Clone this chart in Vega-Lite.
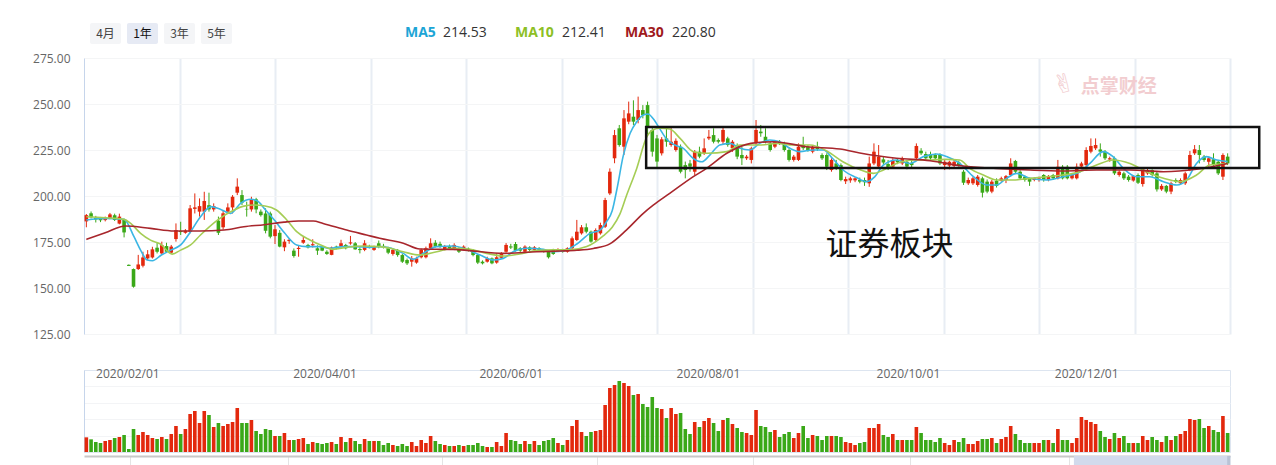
{
"$schema":"https://vega.github.io/schema/vega-lite/v6.json",
"padding":{"left":32,"top":23,"right":0,"bottom":0},
"background":"white",
"config":{"view":{"stroke":null},"font":"Open Sans","axis":{"labelFont":"Open Sans","titleFont":"Open Sans"}},
"datasets":{
"k":[
{"i":0,"o":186.2,"h":190.2,"l":183.0,"c":189.6,"vol":44},
{"i":1,"o":190.6,"h":191.6,"l":187.8,"c":188.4,"vol":38},
{"i":2,"o":188.2,"h":189.2,"l":185.6,"c":187.2,"vol":30},
{"i":3,"o":187.8,"h":188.6,"l":185.8,"c":186.8,"vol":27},
{"i":4,"o":186.9,"h":188.8,"l":186.2,"c":188.2,"vol":33},
{"i":5,"o":188.0,"h":190.8,"l":187.4,"c":190.0,"vol":36},
{"i":6,"o":189.6,"h":190.4,"l":186.4,"c":187.0,"vol":42},
{"i":7,"o":185.0,"h":190.4,"l":184.6,"c":188.8,"vol":45},
{"i":8,"o":187.0,"h":187.6,"l":177.5,"c":180.2,"vol":51},
{"i":9,"o":162.6,"h":162.8,"l":162.0,"c":162.0,"vol":9},
{"i":10,"o":160.3,"h":160.6,"l":150.2,"c":150.7,"vol":69},
{"i":11,"o":160.3,"h":168.0,"l":159.8,"c":162.8,"vol":51},
{"i":12,"o":162.1,"h":169.7,"l":161.2,"c":166.6,"vol":60},
{"i":13,"o":166.1,"h":170.6,"l":165.2,"c":168.3,"vol":51},
{"i":14,"o":166.6,"h":172.4,"l":166.0,"c":171.0,"vol":42},
{"i":15,"o":171.9,"h":174.6,"l":168.8,"c":169.7,"vol":39},
{"i":16,"o":168.8,"h":175.2,"l":168.0,"c":173.3,"vol":45},
{"i":17,"o":172.8,"h":174.6,"l":169.0,"c":169.7,"vol":39},
{"i":18,"o":169.2,"h":173.4,"l":168.8,"c":172.5,"vol":54},
{"i":19,"o":176.6,"h":185.1,"l":175.2,"c":181.5,"vol":78},
{"i":20,"o":181.0,"h":186.0,"l":178.8,"c":180.4,"vol":54},
{"i":21,"o":180.0,"h":182.0,"l":179.5,"c":181.2,"vol":69},
{"i":22,"o":180.6,"h":195.1,"l":179.7,"c":193.3,"vol":114},
{"i":23,"o":193.0,"h":201.4,"l":190.5,"c":193.8,"vol":123},
{"i":24,"o":191.5,"h":198.7,"l":188.8,"c":194.5,"vol":87},
{"i":25,"o":191.5,"h":202.3,"l":187.0,"c":197.3,"vol":123},
{"i":26,"o":195.0,"h":201.8,"l":191.5,"c":192.7,"vol":111},
{"i":27,"o":192.7,"h":196.0,"l":191.5,"c":194.5,"vol":75},
{"i":28,"o":186.6,"h":188.8,"l":178.8,"c":180.0,"vol":87},
{"i":29,"o":183.0,"h":192.4,"l":181.8,"c":190.6,"vol":78},
{"i":30,"o":191.5,"h":196.0,"l":190.5,"c":193.8,"vol":84},
{"i":31,"o":193.8,"h":200.5,"l":190.5,"c":199.6,"vol":90},
{"i":32,"o":201.8,"h":209.6,"l":200.5,"c":205.1,"vol":132},
{"i":33,"o":200.5,"h":203.2,"l":195.1,"c":196.4,"vol":87},
{"i":34,"o":193.0,"h":196.9,"l":188.8,"c":192.7,"vol":87},
{"i":35,"o":192.7,"h":199.6,"l":191.5,"c":198.2,"vol":96},
{"i":36,"o":198.2,"h":199.0,"l":190.6,"c":192.7,"vol":63},
{"i":37,"o":191.5,"h":192.7,"l":188.8,"c":189.6,"vol":54},
{"i":38,"o":190.5,"h":193.3,"l":179.7,"c":181.1,"vol":69},
{"i":39,"o":190.5,"h":191.5,"l":177.0,"c":177.9,"vol":66},
{"i":40,"o":178.2,"h":184.2,"l":173.9,"c":181.9,"vol":48},
{"i":41,"o":180.0,"h":181.5,"l":172.1,"c":172.5,"vol":48},
{"i":42,"o":172.1,"h":176.5,"l":170.0,"c":175.2,"vol":57},
{"i":43,"o":175.5,"h":177.0,"l":174.0,"c":176.2,"vol":36},
{"i":44,"o":170.3,"h":171.5,"l":166.5,"c":167.4,"vol":36},
{"i":45,"o":171.2,"h":173.0,"l":167.0,"c":171.8,"vol":39},
{"i":46,"o":174.6,"h":177.8,"l":174.0,"c":176.1,"vol":42},
{"i":47,"o":173.4,"h":174.0,"l":171.5,"c":172.1,"vol":24},
{"i":48,"o":173.2,"h":176.5,"l":172.0,"c":173.8,"vol":30},
{"i":49,"o":171.6,"h":173.2,"l":168.0,"c":170.3,"vol":27},
{"i":50,"o":172.5,"h":173.0,"l":170.0,"c":170.3,"vol":24},
{"i":51,"o":169.7,"h":170.5,"l":168.0,"c":168.5,"vol":27},
{"i":52,"o":168.0,"h":172.5,"l":167.8,"c":172.0,"vol":30},
{"i":53,"o":172.5,"h":173.0,"l":171.0,"c":171.6,"vol":24},
{"i":54,"o":172.5,"h":176.2,"l":172.0,"c":174.3,"vol":45},
{"i":55,"o":173.4,"h":174.0,"l":171.0,"c":171.6,"vol":30},
{"i":56,"o":174.2,"h":178.3,"l":173.5,"c":174.8,"vol":42},
{"i":57,"o":174.3,"h":175.0,"l":170.8,"c":171.0,"vol":33},
{"i":58,"o":171.2,"h":172.1,"l":168.8,"c":170.6,"vol":24},
{"i":59,"o":170.7,"h":176.0,"l":170.0,"c":174.3,"vol":39},
{"i":60,"o":172.6,"h":173.5,"l":171.5,"c":172.0,"vol":33},
{"i":61,"o":170.7,"h":173.0,"l":170.2,"c":172.5,"vol":33},
{"i":62,"o":174.3,"h":175.8,"l":171.6,"c":172.5,"vol":33},
{"i":63,"o":172.9,"h":174.0,"l":171.5,"c":172.3,"vol":21},
{"i":64,"o":171.6,"h":172.4,"l":168.4,"c":169.2,"vol":27},
{"i":65,"o":168.5,"h":171.6,"l":167.6,"c":170.7,"vol":21},
{"i":66,"o":170.7,"h":171.2,"l":167.0,"c":167.9,"vol":18},
{"i":67,"o":167.9,"h":168.5,"l":163.6,"c":164.3,"vol":24},
{"i":68,"o":165.2,"h":166.0,"l":162.5,"c":163.4,"vol":18},
{"i":69,"o":164.3,"h":167.4,"l":161.6,"c":166.1,"vol":30},
{"i":70,"o":163.8,"h":167.0,"l":163.2,"c":166.1,"vol":18},
{"i":71,"o":166.7,"h":171.4,"l":166.1,"c":170.7,"vol":36},
{"i":72,"o":166.7,"h":172.5,"l":166.1,"c":171.6,"vol":27},
{"i":73,"o":171.6,"h":177.0,"l":171.0,"c":174.3,"vol":48},
{"i":74,"o":174.6,"h":176.0,"l":172.0,"c":172.5,"vol":33},
{"i":75,"o":174.0,"h":175.2,"l":171.8,"c":172.5,"vol":24},
{"i":76,"o":171.0,"h":173.4,"l":170.5,"c":172.5,"vol":21},
{"i":77,"o":172.8,"h":173.6,"l":171.0,"c":171.6,"vol":18},
{"i":78,"o":171.0,"h":174.3,"l":170.6,"c":173.4,"vol":18},
{"i":79,"o":171.6,"h":172.2,"l":169.0,"c":169.7,"vol":21},
{"i":80,"o":171.0,"h":173.2,"l":170.5,"c":172.5,"vol":18},
{"i":81,"o":171.4,"h":172.0,"l":169.8,"c":170.3,"vol":21},
{"i":82,"o":170.7,"h":171.2,"l":167.2,"c":167.9,"vol":21},
{"i":83,"o":167.9,"h":168.6,"l":163.0,"c":163.8,"vol":27},
{"i":84,"o":164.3,"h":165.0,"l":162.8,"c":163.4,"vol":18},
{"i":85,"o":164.3,"h":167.0,"l":163.8,"c":166.1,"vol":15},
{"i":86,"o":166.1,"h":166.6,"l":162.9,"c":163.4,"vol":15},
{"i":87,"o":163.8,"h":168.8,"l":163.2,"c":166.7,"vol":30},
{"i":88,"o":166.4,"h":169.5,"l":165.8,"c":168.5,"vol":18},
{"i":89,"o":169.7,"h":174.4,"l":169.2,"c":173.4,"vol":57},
{"i":90,"o":172.6,"h":174.0,"l":171.2,"c":172.0,"vol":36},
{"i":91,"o":173.9,"h":175.0,"l":169.8,"c":170.3,"vol":33},
{"i":92,"o":171.6,"h":172.2,"l":169.6,"c":170.3,"vol":24},
{"i":93,"o":169.7,"h":173.2,"l":169.2,"c":172.5,"vol":33},
{"i":94,"o":172.1,"h":172.7,"l":170.0,"c":170.7,"vol":24},
{"i":95,"o":170.7,"h":172.8,"l":170.2,"c":172.1,"vol":33},
{"i":96,"o":171.6,"h":172.2,"l":170.2,"c":170.7,"vol":21},
{"i":97,"o":170.7,"h":171.2,"l":169.2,"c":169.7,"vol":33},
{"i":98,"o":169.7,"h":170.2,"l":166.0,"c":166.7,"vol":36},
{"i":99,"o":170.7,"h":171.3,"l":168.0,"c":168.5,"vol":42},
{"i":100,"o":170.2,"h":171.6,"l":169.8,"c":170.9,"vol":27},
{"i":101,"o":170.7,"h":171.3,"l":169.2,"c":169.8,"vol":21},
{"i":102,"o":169.7,"h":172.1,"l":169.2,"c":171.6,"vol":36},
{"i":103,"o":171.6,"h":178.0,"l":171.2,"c":177.0,"vol":78},
{"i":104,"o":176.1,"h":187.0,"l":175.5,"c":180.6,"vol":96},
{"i":105,"o":179.7,"h":184.2,"l":179.0,"c":183.0,"vol":60},
{"i":106,"o":183.0,"h":185.1,"l":179.7,"c":180.6,"vol":48},
{"i":107,"o":180.6,"h":181.2,"l":174.6,"c":175.2,"vol":60},
{"i":108,"o":176.1,"h":182.4,"l":175.6,"c":181.5,"vol":63},
{"i":109,"o":179.7,"h":185.5,"l":179.0,"c":184.2,"vol":66},
{"i":110,"o":183.3,"h":199.0,"l":182.6,"c":197.8,"vol":141},
{"i":111,"o":201.4,"h":215.0,"l":200.5,"c":213.2,"vol":192},
{"i":112,"o":220.5,"h":235.9,"l":217.8,"c":233.1,"vol":201},
{"i":113,"o":236.8,"h":238.6,"l":226.8,"c":227.7,"vol":213},
{"i":114,"o":226.8,"h":246.7,"l":222.3,"c":242.2,"vol":207},
{"i":115,"o":240.4,"h":251.3,"l":239.0,"c":244.9,"vol":198},
{"i":116,"o":243.1,"h":252.0,"l":238.6,"c":240.4,"vol":171},
{"i":117,"o":241.3,"h":254.0,"l":239.5,"c":246.7,"vol":174},
{"i":118,"o":246.7,"h":249.4,"l":242.2,"c":244.0,"vol":144},
{"i":119,"o":249.4,"h":251.3,"l":233.5,"c":237.7,"vol":135},
{"i":120,"o":235.9,"h":237.7,"l":221.4,"c":224.1,"vol":165},
{"i":121,"o":231.3,"h":233.2,"l":215.0,"c":218.7,"vol":132},
{"i":122,"o":223.2,"h":232.0,"l":222.0,"c":230.8,"vol":129},
{"i":123,"o":231.3,"h":237.7,"l":226.8,"c":229.5,"vol":102},
{"i":124,"o":227.7,"h":237.7,"l":226.8,"c":229.5,"vol":132},
{"i":125,"o":225.0,"h":231.3,"l":224.1,"c":230.0,"vol":114},
{"i":126,"o":226.8,"h":228.0,"l":212.3,"c":213.2,"vol":117},
{"i":127,"o":216.8,"h":218.7,"l":209.6,"c":214.1,"vol":69},
{"i":128,"o":217.7,"h":219.6,"l":213.2,"c":216.0,"vol":54},
{"i":129,"o":213.2,"h":225.0,"l":211.4,"c":224.1,"vol":90},
{"i":130,"o":224.1,"h":226.8,"l":220.5,"c":221.4,"vol":75},
{"i":131,"o":223.2,"h":231.3,"l":222.3,"c":225.9,"vol":93},
{"i":132,"o":231.3,"h":235.9,"l":230.4,"c":232.2,"vol":102},
{"i":133,"o":233.1,"h":236.8,"l":228.6,"c":229.5,"vol":87},
{"i":134,"o":230.4,"h":231.3,"l":228.6,"c":229.5,"vol":63},
{"i":135,"o":229.5,"h":237.7,"l":228.0,"c":235.9,"vol":96},
{"i":136,"o":231.3,"h":232.2,"l":226.8,"c":227.7,"vol":102},
{"i":137,"o":226.0,"h":230.4,"l":224.0,"c":229.5,"vol":84},
{"i":138,"o":227.7,"h":228.6,"l":220.0,"c":221.4,"vol":72},
{"i":139,"o":222.3,"h":226.8,"l":216.8,"c":220.5,"vol":60},
{"i":140,"o":220.5,"h":222.3,"l":219.6,"c":221.4,"vol":57},
{"i":141,"o":219.6,"h":226.8,"l":217.7,"c":225.9,"vol":51},
{"i":142,"o":228.6,"h":241.3,"l":227.7,"c":235.9,"vol":126},
{"i":143,"o":235.0,"h":238.6,"l":232.2,"c":234.1,"vol":78},
{"i":144,"o":232.2,"h":236.8,"l":228.6,"c":229.5,"vol":75},
{"i":145,"o":228.6,"h":229.5,"l":224.1,"c":225.0,"vol":60},
{"i":146,"o":226.8,"h":230.4,"l":226.0,"c":229.5,"vol":66},
{"i":147,"o":229.3,"h":230.4,"l":227.7,"c":228.6,"vol":45},
{"i":148,"o":228.6,"h":229.5,"l":224.1,"c":225.0,"vol":54},
{"i":149,"o":225.0,"h":226.0,"l":218.7,"c":219.6,"vol":60},
{"i":150,"o":219.6,"h":222.3,"l":218.7,"c":221.4,"vol":42},
{"i":151,"o":219.6,"h":228.6,"l":219.0,"c":226.8,"vol":57},
{"i":152,"o":227.7,"h":232.2,"l":225.0,"c":226.0,"vol":78},
{"i":153,"o":226.8,"h":227.7,"l":224.1,"c":225.0,"vol":42},
{"i":154,"o":224.1,"h":227.7,"l":223.2,"c":226.8,"vol":51},
{"i":155,"o":226.8,"h":229.5,"l":224.5,"c":225.5,"vol":48},
{"i":156,"o":222.3,"h":223.2,"l":219.6,"c":220.5,"vol":36},
{"i":157,"o":222.3,"h":223.2,"l":214.1,"c":215.9,"vol":48},
{"i":158,"o":214.1,"h":220.5,"l":213.2,"c":219.6,"vol":48},
{"i":159,"o":217.7,"h":219.6,"l":214.1,"c":215.0,"vol":48},
{"i":160,"o":216.8,"h":217.7,"l":208.0,"c":208.7,"vol":45},
{"i":161,"o":208.0,"h":210.5,"l":206.5,"c":209.2,"vol":30},
{"i":162,"o":208.5,"h":210.5,"l":207.2,"c":209.6,"vol":27},
{"i":163,"o":208.5,"h":210.2,"l":207.5,"c":209.6,"vol":21},
{"i":164,"o":208.7,"h":210.0,"l":206.9,"c":207.8,"vol":27},
{"i":165,"o":208.7,"h":210.0,"l":205.5,"c":207.5,"vol":30},
{"i":166,"o":206.9,"h":221.4,"l":205.0,"c":217.7,"vol":72},
{"i":167,"o":217.7,"h":228.6,"l":216.8,"c":224.1,"vol":72},
{"i":168,"o":216.0,"h":227.7,"l":215.0,"c":221.4,"vol":84},
{"i":169,"o":219.9,"h":221.4,"l":217.0,"c":218.2,"vol":51},
{"i":170,"o":217.4,"h":219.6,"l":214.1,"c":215.6,"vol":45},
{"i":171,"o":216.0,"h":220.5,"l":215.0,"c":219.6,"vol":54},
{"i":172,"o":219.6,"h":220.5,"l":217.3,"c":218.3,"vol":36},
{"i":173,"o":217.7,"h":221.4,"l":216.8,"c":220.5,"vol":36},
{"i":174,"o":218.6,"h":219.6,"l":214.5,"c":216.0,"vol":36},
{"i":175,"o":218.0,"h":219.6,"l":215.5,"c":216.8,"vol":36},
{"i":176,"o":220.5,"h":228.6,"l":219.6,"c":227.2,"vol":75},
{"i":177,"o":224.6,"h":226.0,"l":222.3,"c":223.2,"vol":57},
{"i":178,"o":222.8,"h":224.1,"l":219.6,"c":220.5,"vol":36},
{"i":179,"o":222.8,"h":224.1,"l":219.6,"c":220.5,"vol":36},
{"i":180,"o":222.3,"h":223.2,"l":219.6,"c":220.5,"vol":30},
{"i":181,"o":222.3,"h":223.2,"l":216.8,"c":217.7,"vol":42},
{"i":182,"o":216.8,"h":219.6,"l":214.1,"c":218.6,"vol":27},
{"i":183,"o":216.5,"h":219.2,"l":214.5,"c":218.6,"vol":21},
{"i":184,"o":216.3,"h":219.6,"l":215.5,"c":218.6,"vol":36},
{"i":185,"o":218.2,"h":219.2,"l":215.9,"c":216.8,"vol":30},
{"i":186,"o":213.2,"h":214.1,"l":206.0,"c":207.2,"vol":42},
{"i":187,"o":206.9,"h":210.0,"l":206.0,"c":208.7,"vol":24},
{"i":188,"o":206.9,"h":210.5,"l":206.0,"c":209.6,"vol":24},
{"i":189,"o":206.0,"h":211.4,"l":205.1,"c":210.5,"vol":33},
{"i":190,"o":209.6,"h":210.5,"l":199.2,"c":201.8,"vol":39},
{"i":191,"o":207.8,"h":209.0,"l":201.5,"c":202.4,"vol":39},
{"i":192,"o":202.4,"h":208.7,"l":201.5,"c":207.8,"vol":42},
{"i":193,"o":208.3,"h":209.6,"l":204.6,"c":205.5,"vol":27},
{"i":194,"o":208.3,"h":210.5,"l":207.8,"c":209.6,"vol":39},
{"i":195,"o":208.7,"h":211.4,"l":207.0,"c":210.8,"vol":45},
{"i":196,"o":211.4,"h":220.5,"l":210.5,"c":217.7,"vol":78},
{"i":197,"o":219.0,"h":219.6,"l":212.3,"c":213.2,"vol":54},
{"i":198,"o":213.2,"h":214.0,"l":208.7,"c":209.6,"vol":36},
{"i":199,"o":210.5,"h":211.2,"l":207.8,"c":208.7,"vol":27},
{"i":200,"o":209.6,"h":210.0,"l":205.5,"c":207.8,"vol":27},
{"i":201,"o":208.7,"h":210.3,"l":208.0,"c":209.6,"vol":27},
{"i":202,"o":208.7,"h":210.5,"l":207.8,"c":209.6,"vol":27},
{"i":203,"o":211.4,"h":211.9,"l":207.8,"c":208.7,"vol":36},
{"i":204,"o":208.7,"h":211.4,"l":208.0,"c":210.5,"vol":36},
{"i":205,"o":211.4,"h":212.0,"l":208.7,"c":209.6,"vol":27},
{"i":206,"o":209.6,"h":219.6,"l":209.0,"c":215.9,"vol":69},
{"i":207,"o":215.9,"h":216.8,"l":209.0,"c":209.6,"vol":36},
{"i":208,"o":215.9,"h":216.8,"l":209.0,"c":209.6,"vol":36},
{"i":209,"o":209.6,"h":212.0,"l":209.0,"c":211.4,"vol":27},
{"i":210,"o":209.6,"h":217.7,"l":209.0,"c":215.9,"vol":42},
{"i":211,"o":216.0,"h":218.6,"l":214.5,"c":217.7,"vol":105},
{"i":212,"o":216.8,"h":226.5,"l":216.0,"c":225.0,"vol":96},
{"i":213,"o":224.1,"h":231.3,"l":223.2,"c":227.2,"vol":90},
{"i":214,"o":225.9,"h":231.3,"l":225.0,"c":227.7,"vol":84},
{"i":215,"o":225.3,"h":228.6,"l":221.4,"c":224.1,"vol":63},
{"i":216,"o":224.1,"h":225.0,"l":219.6,"c":220.5,"vol":45},
{"i":217,"o":219.9,"h":221.4,"l":218.6,"c":220.5,"vol":39},
{"i":218,"o":220.5,"h":221.4,"l":211.4,"c":212.3,"vol":57},
{"i":219,"o":211.4,"h":214.0,"l":210.5,"c":213.2,"vol":42},
{"i":220,"o":212.3,"h":213.2,"l":208.7,"c":209.6,"vol":48},
{"i":221,"o":210.5,"h":211.4,"l":207.8,"c":208.7,"vol":27},
{"i":222,"o":208.4,"h":211.4,"l":207.8,"c":210.8,"vol":27},
{"i":223,"o":211.4,"h":212.3,"l":206.5,"c":207.2,"vol":27},
{"i":224,"o":206.5,"h":215.5,"l":205.1,"c":214.5,"vol":48},
{"i":225,"o":212.3,"h":214.8,"l":211.5,"c":214.1,"vol":36},
{"i":226,"o":214.1,"h":214.5,"l":210.5,"c":211.4,"vol":45},
{"i":227,"o":212.3,"h":213.2,"l":202.4,"c":203.6,"vol":36},
{"i":228,"o":203.6,"h":206.5,"l":202.8,"c":205.5,"vol":30},
{"i":229,"o":205.5,"h":206.0,"l":201.5,"c":202.4,"vol":48},
{"i":230,"o":202.4,"h":207.8,"l":201.0,"c":206.9,"vol":36},
{"i":231,"o":208.7,"h":209.6,"l":207.0,"c":207.8,"vol":48},
{"i":232,"o":206.9,"h":209.6,"l":206.0,"c":208.7,"vol":54},
{"i":233,"o":206.9,"h":213.2,"l":206.0,"c":212.3,"vol":63},
{"i":234,"o":214.1,"h":224.5,"l":213.5,"c":222.3,"vol":99},
{"i":235,"o":223.2,"h":227.7,"l":222.3,"c":225.4,"vol":96},
{"i":236,"o":225.0,"h":227.7,"l":217.7,"c":222.3,"vol":99},
{"i":237,"o":221.4,"h":222.3,"l":218.6,"c":219.6,"vol":72},
{"i":238,"o":218.6,"h":221.4,"l":215.9,"c":220.5,"vol":78},
{"i":239,"o":220.0,"h":223.2,"l":216.0,"c":216.8,"vol":66},
{"i":240,"o":218.6,"h":219.6,"l":211.4,"c":212.3,"vol":60},
{"i":241,"o":210.5,"h":223.2,"l":208.7,"c":222.3,"vol":108},
{"i":242,"o":221.4,"h":223.2,"l":216.8,"c":217.7,"vol":57}
],
"ma":[
{"s":"MA5","i":0,"v":187},{"s":"MA5","i":4,"v":187.8},{"s":"MA5","i":8,"v":187.3},{"s":"MA5","i":10.1,"v":177.9},{"s":"MA5","i":11.5,"v":170.6},{"s":"MA5","i":12.9,"v":165.2},{"s":"MA5","i":14,"v":164.8},{"s":"MA5","i":15.9,"v":167.9},{"s":"MA5","i":17.9,"v":170.6},{"s":"MA5","i":20,"v":173.4},{"s":"MA5","i":22.1,"v":180.6},{"s":"MA5","i":24.2,"v":188.7},{"s":"MA5","i":26.4,"v":194.2},{"s":"MA5","i":28.5,"v":192.7},{"s":"MA5","i":30.6,"v":190.5},{"s":"MA5","i":32.7,"v":196},{"s":"MA5","i":34.8,"v":198.2},{"s":"MA5","i":36.2,"v":197.4},{"s":"MA5","i":38,"v":192.4},{"s":"MA5","i":40,"v":186.5},{"s":"MA5","i":42,"v":180},{"s":"MA5","i":44.6,"v":173.4},{"s":"MA5","i":46.7,"v":172.5},{"s":"MA5","i":49.5,"v":172.5},{"s":"MA5","i":51.6,"v":171.6},{"s":"MA5","i":54.5,"v":172.5},{"s":"MA5","i":57.3,"v":172.5},{"s":"MA5","i":60.1,"v":172.1},{"s":"MA5","i":62.2,"v":172.5},{"s":"MA5","i":64,"v":172},{"s":"MA5","i":67.2,"v":168.8},{"s":"MA5","i":69.3,"v":165.6},{"s":"MA5","i":71.4,"v":168.8},{"s":"MA5","i":74.3,"v":172.5},{"s":"MA5","i":77.8,"v":172.8},{"s":"MA5","i":80.6,"v":171},{"s":"MA5","i":83.5,"v":167.9},{"s":"MA5","i":86.3,"v":165.2},{"s":"MA5","i":88.4,"v":166.1},{"s":"MA5","i":90.5,"v":169.7},{"s":"MA5","i":93.4,"v":171.6},{"s":"MA5","i":96.9,"v":171},{"s":"MA5","i":99,"v":169.7},{"s":"MA5","i":101.1,"v":170.1},{"s":"MA5","i":104,"v":173.9},{"s":"MA5","i":106.8,"v":179.7},{"s":"MA5","i":108.9,"v":181.5},{"s":"MA5","i":110.3,"v":186},{"s":"MA5","i":111.5,"v":192},{"s":"MA5","i":112.6,"v":205},{"s":"MA5","i":113.8,"v":221.4},{"s":"MA5","i":115.3,"v":234.1},{"s":"MA5","i":116.7,"v":240.4},{"s":"MA5","i":118.1,"v":244},{"s":"MA5","i":119.1,"v":244.6},{"s":"MA5","i":120.2,"v":242},{"s":"MA5","i":121.6,"v":236.5},{"s":"MA5","i":123,"v":231},{"s":"MA5","i":124.8,"v":227.7},{"s":"MA5","i":126.6,"v":225.9},{"s":"MA5","i":128.7,"v":220.4},{"s":"MA5","i":130.5,"v":218.6},{"s":"MA5","i":132.2,"v":222.2},{"s":"MA5","i":134.3,"v":227.7},{"s":"MA5","i":136.5,"v":228.6},{"s":"MA5","i":138.6,"v":225.9},{"s":"MA5","i":140.7,"v":225},{"s":"MA5","i":142.8,"v":228.6},{"s":"MA5","i":144.9,"v":230.4},{"s":"MA5","i":147,"v":229.5},{"s":"MA5","i":149.2,"v":225.9},{"s":"MA5","i":151.3,"v":224.1},{"s":"MA5","i":154.1,"v":225},{"s":"MA5","i":156.3,"v":225},{"s":"MA5","i":158.2,"v":220.5},{"s":"MA5","i":160.5,"v":214},{"s":"MA5","i":163.3,"v":210},{"s":"MA5","i":165.5,"v":207.8},{"s":"MA5","i":167.2,"v":210.5},{"s":"MA5","i":169,"v":216.8},{"s":"MA5","i":171.8,"v":219.6},{"s":"MA5","i":174.6,"v":217.7},{"s":"MA5","i":177.5,"v":221.4},{"s":"MA5","i":180.3,"v":222.8},{"s":"MA5","i":182.4,"v":221.4},{"s":"MA5","i":185.2,"v":217.7},{"s":"MA5","i":188.1,"v":210.5},{"s":"MA5","i":190.9,"v":206},{"s":"MA5","i":193,"v":206},{"s":"MA5","i":195.1,"v":209.6},{"s":"MA5","i":197.3,"v":212.3},{"s":"MA5","i":200.1,"v":209.6},{"s":"MA5","i":203.6,"v":208.7},{"s":"MA5","i":207.1,"v":210.5},{"s":"MA5","i":210.7,"v":213.2},{"s":"MA5","i":212.8,"v":217.7},{"s":"MA5","i":215.6,"v":224.1},{"s":"MA5","i":217.7,"v":221.4},{"s":"MA5","i":219.9,"v":215},{"s":"MA5","i":222.7,"v":210.5},{"s":"MA5","i":225.5,"v":210.5},{"s":"MA5","i":228.4,"v":207.8},{"s":"MA5","i":231.2,"v":206},{"s":"MA5","i":233.3,"v":208.7},{"s":"MA5","i":235.4,"v":217.7},{"s":"MA5","i":237.5,"v":221.4},{"s":"MA5","i":239.7,"v":219.6},{"s":"MA5","i":242,"v":218.7},
{"s":"MA10","i":0,"v":188.7},{"s":"MA10","i":4,"v":188.2},{"s":"MA10","i":8,"v":187.3},{"s":"MA10","i":9.4,"v":185.1},{"s":"MA10","i":11.5,"v":179.7},{"s":"MA10","i":13.6,"v":176},{"s":"MA10","i":15.7,"v":173.9},{"s":"MA10","i":18.2,"v":168.4},{"s":"MA10","i":20,"v":170.6},{"s":"MA10","i":22.1,"v":173.4},{"s":"MA10","i":24.2,"v":178.8},{"s":"MA10","i":27.8,"v":186.9},{"s":"MA10","i":31.3,"v":192.4},{"s":"MA10","i":33.4,"v":194.5},{"s":"MA10","i":35.5,"v":195.1},{"s":"MA10","i":37.9,"v":194.6},{"s":"MA10","i":40.3,"v":192.4},{"s":"MA10","i":42.5,"v":187},{"s":"MA10","i":44.6,"v":180.6},{"s":"MA10","i":47.4,"v":176.1},{"s":"MA10","i":50.2,"v":172.8},{"s":"MA10","i":52.3,"v":171},{"s":"MA10","i":55.2,"v":172.1},{"s":"MA10","i":58.7,"v":172.8},{"s":"MA10","i":62.2,"v":172.5},{"s":"MA10","i":64.4,"v":171.6},{"s":"MA10","i":67.2,"v":169.7},{"s":"MA10","i":70.7,"v":167.9},{"s":"MA10","i":74.3,"v":169.7},{"s":"MA10","i":77.8,"v":171.6},{"s":"MA10","i":81.3,"v":171},{"s":"MA10","i":84.9,"v":168.8},{"s":"MA10","i":88.4,"v":167.4},{"s":"MA10","i":91.9,"v":168.5},{"s":"MA10","i":95.5,"v":170.3},{"s":"MA10","i":99,"v":170.7},{"s":"MA10","i":102.5,"v":170.7},{"s":"MA10","i":106.1,"v":172.5},{"s":"MA10","i":109.6,"v":178.3},{"s":"MA10","i":111.5,"v":183},{"s":"MA10","i":113.1,"v":190},{"s":"MA10","i":114.5,"v":200},{"s":"MA10","i":116.7,"v":215},{"s":"MA10","i":118.8,"v":232},{"s":"MA10","i":120.2,"v":236},{"s":"MA10","i":121.6,"v":236.8},{"s":"MA10","i":123.7,"v":236.4},{"s":"MA10","i":125.9,"v":231.3},{"s":"MA10","i":128.7,"v":224.1},{"s":"MA10","i":131.6,"v":223.2},{"s":"MA10","i":135.8,"v":224.1},{"s":"MA10","i":138.6,"v":227.7},{"s":"MA10","i":142.8,"v":227.7},{"s":"MA10","i":146.4,"v":228.6},{"s":"MA10","i":149.9,"v":227.7},{"s":"MA10","i":153.4,"v":227.7},{"s":"MA10","i":157,"v":224.5},{"s":"MA10","i":160.5,"v":218.5},{"s":"MA10","i":164.2,"v":214.1},{"s":"MA10","i":166.9,"v":212.3},{"s":"MA10","i":169,"v":214.1},{"s":"MA10","i":171.8,"v":217.7},{"s":"MA10","i":175.3,"v":219.6},{"s":"MA10","i":178.9,"v":219.6},{"s":"MA10","i":182.4,"v":219.9},{"s":"MA10","i":185.2,"v":219.6},{"s":"MA10","i":187.3,"v":215},{"s":"MA10","i":190.2,"v":211.4},{"s":"MA10","i":193,"v":208.7},{"s":"MA10","i":196.5,"v":208.7},{"s":"MA10","i":200.1,"v":209.6},{"s":"MA10","i":203.6,"v":210.5},{"s":"MA10","i":207.1,"v":211.4},{"s":"MA10","i":210.7,"v":213.2},{"s":"MA10","i":214.2,"v":216.8},{"s":"MA10","i":217.7,"v":219.6},{"s":"MA10","i":221.3,"v":217.7},{"s":"MA10","i":224.8,"v":213.2},{"s":"MA10","i":228.4,"v":209.6},{"s":"MA10","i":231.9,"v":207.8},{"s":"MA10","i":235.4,"v":211.4},{"s":"MA10","i":238.2,"v":216.8},{"s":"MA10","i":242,"v":217.7},
{"s":"MA30","i":0,"v":176.4},{"s":"MA30","i":4,"v":180},{"s":"MA30","i":8.3,"v":183.7},{"s":"MA30","i":13.6,"v":182.4},{"s":"MA30","i":18.6,"v":181},{"s":"MA30","i":24,"v":181},{"s":"MA30","i":29.2,"v":181.5},{"s":"MA30","i":33.4,"v":183.3},{"s":"MA30","i":37.7,"v":184.4},{"s":"MA30","i":41.9,"v":185.8},{"s":"MA30","i":45,"v":186.4},{"s":"MA30","i":48.1,"v":186.4},{"s":"MA30","i":50.2,"v":185.1},{"s":"MA30","i":55.2,"v":181.5},{"s":"MA30","i":59.4,"v":178.8},{"s":"MA30","i":62.2,"v":177},{"s":"MA30","i":67.2,"v":174.3},{"s":"MA30","i":70.7,"v":171.2},{"s":"MA30","i":77.8,"v":171},{"s":"MA30","i":81.3,"v":170.3},{"s":"MA30","i":88.4,"v":168.8},{"s":"MA30","i":95.5,"v":169.7},{"s":"MA30","i":100.4,"v":170.1},{"s":"MA30","i":104,"v":170.5},{"s":"MA30","i":107.5,"v":171.5},{"s":"MA30","i":111,"v":174},{"s":"MA30","i":114.5,"v":181.5},{"s":"MA30","i":118.1,"v":190.6},{"s":"MA30","i":120.2,"v":195},{"s":"MA30","i":123.7,"v":201.4},{"s":"MA30","i":128.7,"v":210.5},{"s":"MA30","i":131.5,"v":215},{"s":"MA30","i":135.8,"v":223.2},{"s":"MA30","i":140.9,"v":228.6},{"s":"MA30","i":145.7,"v":229.5},{"s":"MA30","i":152.7,"v":226.8},{"s":"MA30","i":159.8,"v":225.5},{"s":"MA30","i":164,"v":223.4},{"s":"MA30","i":171.8,"v":220.5},{"s":"MA30","i":178.9,"v":219.2},{"s":"MA30","i":185.9,"v":216.3},{"s":"MA30","i":193,"v":215},{"s":"MA30","i":200.1,"v":214.1},{"s":"MA30","i":207.1,"v":213.6},{"s":"MA30","i":214.2,"v":214.1},{"s":"MA30","i":221.3,"v":214.1},{"s":"MA30","i":228.4,"v":213.2},{"s":"MA30","i":235.4,"v":214.5},{"s":"MA30","i":242,"v":217.7}
]
},
"spacing":14,
"bounds":"flush",
"vconcat":[
{
 "width":1146,"height":21,
 "layer":[
  {
   "data":{"values":[{"b":"4月"},{"b":"1年"},{"b":"3年"},{"b":"5年"}]},
   "layer":[
    {"mark":{"type":"rect","cornerRadius":2},
     "encoding":{
      "x":{"field":"b","type":"nominal","sort":null,"scale":{"type":"band","domain":["4月","1年","3年","5年"],"range":[6,148],"paddingInner":0.162,"paddingOuter":0},"axis":null},
      "color":{"condition":{"test":"datum.b==='1年'","value":"#e6eaf4"},"value":"#f4f5f7"}}},
    {"mark":{"type":"text","font":"Noto Sans CJK SC","fontSize":12},
     "encoding":{
      "x":{"field":"b","type":"nominal","sort":null},
      "text":{"field":"b"},
      "color":{"condition":{"test":"datum.b==='1年'","value":"#111111"},"value":"#444444"},
      "fontWeight":{"condition":{"test":"datum.b==='1年'","value":"bold"},"value":"normal"}}}
   ]
  },
  {
   "data":{"values":[{"k":"MA5","v":"214.53"},{"k":"MA10","v":"212.41"},{"k":"MA30","v":"220.80"}]},
   "layer":[
    {"mark":{"type":"text","align":"left","fontSize":14,"fontWeight":"bold","dy":-1,"font":"Open Sans"},
     "encoding":{
      "x":{"field":"k","type":"nominal","sort":null,"bandPosition":0,"scale":{"type":"band","domain":["MA5","MA10","MA30"],"range":[321,651],"paddingInner":0,"paddingOuter":0},"axis":null},
      "text":{"field":"k"},
      "color":{"condition":[{"test":"datum.k==='MA5'","value":"#1ca5d6"},{"test":"datum.k==='MA10'","value":"#8dbf26"}],"value":"#a0191c"}}},
    {"transform":[{"filter":"datum.k==='MA5'"}],
     "mark":{"type":"text","align":"left","fontSize":14,"dx":38,"dy":-1,"color":"#333333","font":"Open Sans"},
     "encoding":{"x":{"field":"k","type":"nominal","sort":null,"bandPosition":0},"text":{"field":"v"}}},
    {"transform":[{"filter":"datum.k!=='MA5'"}],
     "mark":{"type":"text","align":"left","fontSize":14,"dx":47,"dy":-1,"color":"#333333","font":"Open Sans"},
     "encoding":{"x":{"field":"k","type":"nominal","sort":null,"bandPosition":0},"text":{"field":"v"}}}
   ]
  }
 ],
 "resolve":{"scale":{"x":"independent"}}
},
{
 "spacing":36,
 "bounds":"flush",
 "vconcat":[
  {
   "width":1146,"height":276,
   "data":{"name":"k"},
   "layer":[
    {"mark":{"type":"rule","strokeWidth":1},
     "encoding":{
      "x":{"field":"i","type":"quantitative","scale":{"domain":[-0.5,242.5],"nice":false,"zero":false,"padding":0},
           "axis":{"values":[19.75,40,60.25,80.5,100.75,121,141.25,161.5,181.75,202,222.25,242.5],"labels":false,"ticks":false,"domain":false,"grid":true,"gridColor":"#e8edf4","gridWidth":2,"title":null}},
      "y":{"field":"l","type":"quantitative","scale":{"domain":[125,275],"nice":false,"zero":false},
           "axis":{"values":[125,150,175,200,225,250,275],"format":".2f","labelPadding":14,"ticks":false,"tickSize":0,"domain":true,"domainColor":"#c6d5eb","grid":true,"gridColor":"#f4f5f6","labelColor":"#666666","labelFontSize":12,"title":null}},
      "y2":{"field":"h"},
      "color":{"condition":{"test":"datum.c>=datum.o","value":"#e3280d"},"value":"#3aa818"}}},
    {"mark":{"type":"bar","width":3.6},
     "encoding":{
      "x":{"field":"i","type":"quantitative"},
      "y":{"field":"o","type":"quantitative"},
      "y2":{"field":"c"},
      "color":{"condition":{"test":"datum.c>=datum.o","value":"#e3280d"},"value":"#3aa818"}}},
    {"data":{"name":"ma"},
     "mark":{"type":"line","interpolate":"monotone","strokeWidth":1.6},
     "encoding":{
      "x":{"field":"i","type":"quantitative"},
      "y":{"field":"v","type":"quantitative"},
      "color":{"field":"s","type":"nominal","scale":{"domain":["MA5","MA10","MA30"],"range":["#3bb6e4","#a5cd55","#a8262c"]},"legend":null}}},
    {"data":{"values":[{}]},
     "mark":{"type":"rect","fill":"transparent","stroke":"#111111","strokeWidth":2.5,"clip":false},
     "encoding":{"x":{"datum":118.7,"type":"quantitative"},"x2":{"datum":248.7},"y":{"datum":237.5,"type":"quantitative"},"y2":{"datum":215.2}}},
    {"data":{"values":[{}]},
     "mark":{"type":"text","text":"证券板块","font":"Noto Sans CJK SC","fontSize":32,"color":"#111111"},
     "encoding":{"x":{"datum":170.3,"type":"quantitative"},"y":{"datum":173.4,"type":"quantitative"}}},
    {"data":{"values":[{}]},
     "mark":{"type":"text","text":"✌","font":"DejaVu Sans","fontSize":26,"color":"#f2cdd0","angle":-15},
     "encoding":{"x":{"datum":207.3,"type":"quantitative"},"y":{"datum":260.6,"type":"quantitative"}}},
    {"data":{"values":[{}]},
     "mark":{"type":"text","text":"点掌财经","font":"Noto Sans CJK SC","fontSize":19,"fontWeight":"bold","color":"#f2cdd0"},
     "encoding":{"x":{"datum":218.9,"type":"quantitative"},"y":{"datum":259.0,"type":"quantitative"}}}
   ]
  },
  {
   "spacing":4,
   "bounds":"flush",
   "vconcat":[
    {
     "width":1146,"height":82,
     "data":{"name":"k"},
     "view":{"stroke":"#dde5f0"},
     "mark":{"type":"bar","width":3.6},
     "encoding":{
      "x":{"field":"i","type":"quantitative","scale":{"domain":[-0.5,242.5],"nice":false,"zero":false,"padding":0},
           "axis":{"orient":"top","values":[8.7,50.5,90,131.8,174.2,212],
                   "labelExpr":"datum.value < 20 ? '2020/02/01' : datum.value < 70 ? '2020/04/01' : datum.value < 110 ? '2020/06/01' : datum.value < 150 ? '2020/08/01' : datum.value < 190 ? '2020/10/01' : '2020/12/01'",
                   "domain":false,"ticks":false,"tickSize":0,"grid":false,"labelPadding":-3,"labelBaseline":"middle","labelAlign":"center","labelColor":"#666666","labelFontSize":12,"labelFlush":false,"labelOverlap":false,"title":null}},
      "y":{"field":"vol","type":"quantitative","scale":{"domain":[0,246],"nice":false},
           "axis":{"labels":false,"ticks":false,"title":null,"domainColor":"#c6d5eb","grid":true,"gridColor":"#f3f4f6","values":[49.2,98.4,147.6,196.8]}},
      "color":{"condition":{"test":"datum.c>=datum.o","value":"#e3280d"},"value":"#3aa818"}}
    },
    {
     "width":1146,"height":10,
     "data":{"values":[{}]},
     "layer":[
      {"mark":{"type":"rect","color":"#d2daec"},
       "encoding":{
        "x":{"datum":209.4,"type":"quantitative","scale":{"domain":[-0.5,242.5],"nice":false,"zero":false},
             "axis":{"orient":"top","labels":false,"ticks":false,"title":null,"domainColor":"#c8c8c8","domainWidth":2,"grid":true,"gridColor":"#e4e4e4","values":[9.25,42.8,75.4,108.3,141.4,174.7,208.4]}},
        "x2":{"datum":242.1}}},
      {"mark":{"type":"rect","color":"#b9c3d6"},
       "encoding":{"x":{"datum":241.9,"type":"quantitative"},"x2":{"datum":242.6}}}
     ]
    }
   ]
  }
 ]
}
]
}
